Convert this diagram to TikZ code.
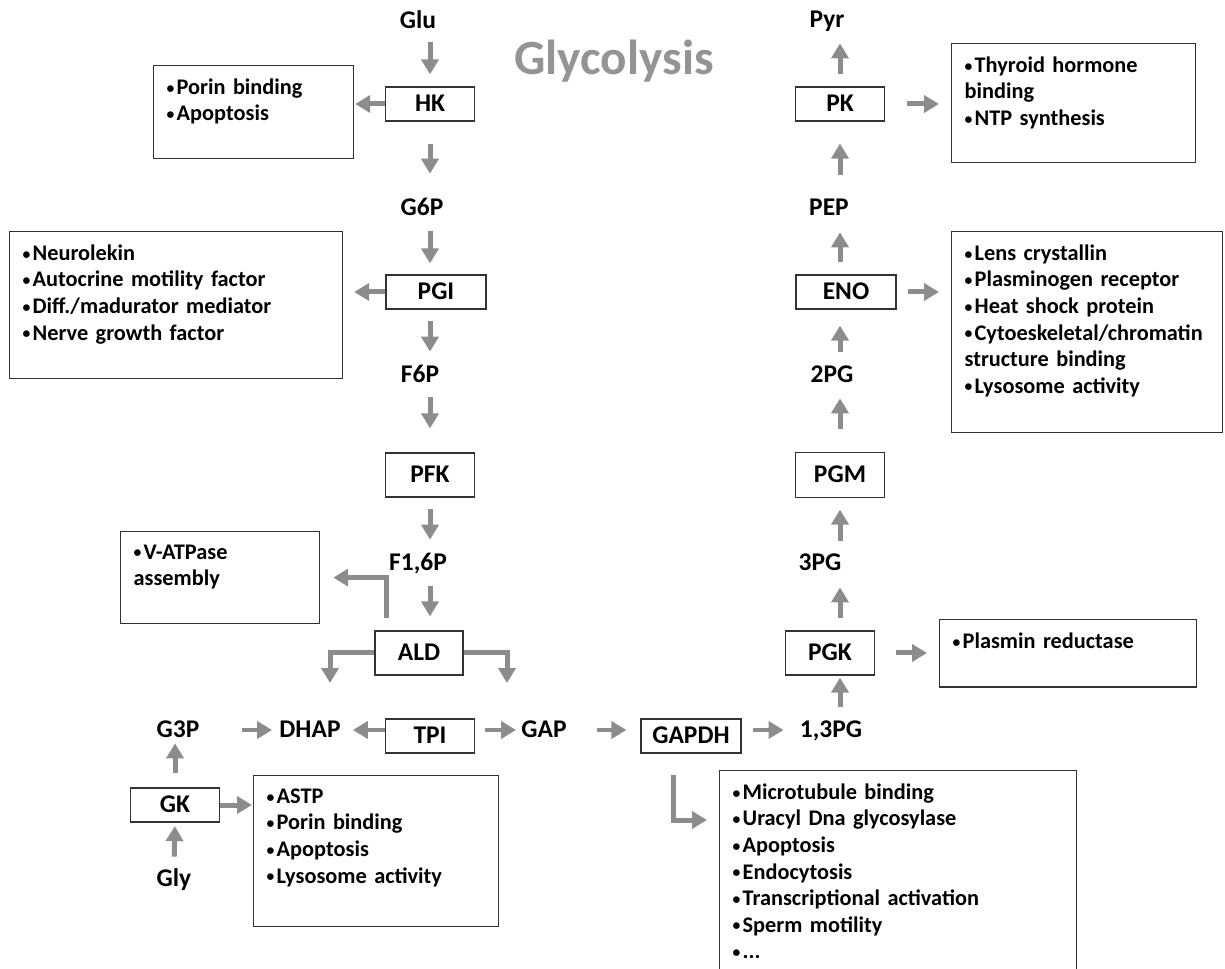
\documentclass[tikz,border=0pt]{standalone}
\usepackage{fontspec}
\setmainfont{Carlito}
\usetikzlibrary{positioning, arrows.meta, calc}
\definecolor{flowgray}{RGB}{140,140,140}
\definecolor{titlegray}{RGB}{148,148,148}
\hyphenpenalty=10000
\newcommand{\bul}{\raisebox{0.12ex}{\scalebox{0.7}{•}}\hspace{1.3pt}}

\begin{document}
\begin{tikzpicture}[
    x=0.02cm, y=-0.02cm,
    metab/.style={font=\bfseries\fontsize{14.5}{17}\selectfont, inner sep=0pt,
                  text height=0.4cm, text depth=0.08cm},
    enzyme/.style={draw=black!80, line width=0.7pt, font=\bfseries\fontsize{14.5}{17}\selectfont,
                   inner sep=0pt, text height=0.4cm, text depth=0.08cm,
                   minimum width=1.78cm, minimum height=0.68cm},
    infobox/.style 2 args={draw=black!80, line width=0.7pt, anchor=north west, align=left,
                   font=\bfseries\fontsize{12.7}{15.1}\selectfont,
                   inner xsep=0.26cm, inner ysep=7.5pt, text width=#1, text depth=#2},
    flow/.style={-{Triangle[length=0.3cm, width=0.34cm]}, line width=0.1cm, flowgray,
                 shorten <=0.22cm, shorten >=0.22cm}
]
\useasboundingbox (0,0) rectangle (1225,969);
\clip (0,0) rectangle (1225,969);

\node[font=\bfseries\fontsize{28}{32}\selectfont, text=titlegray, anchor=base] (title) at (614,75) {Glycolysis};

\node[metab] (glu) at (418,21) {Glu};
\node[enzyme] (hk) at (430,104) {HK};
\node[metab] (g6p) at (422,208) {G6P};
\node[enzyme, minimum width=2cm] (pgi) at (436,292) {PGI};
\node[metab] (f6p) at (420,375) {F6P};
\node[enzyme, minimum height=0.88cm] (pfk) at (430,475) {PFK};
\node[metab] (f16p) at (418,563) {F1,6P};
\node[enzyme, minimum width=1.76cm, minimum height=0.88cm] (ald) at (419,653) {ALD};
\node[metab] (g3p) at (178,730) {G3P};
\node[metab] (dhap) at (310,730) {DHAP};
\node[enzyme] (tpi) at (430,736) {TPI};
\node[metab] (gap) at (544,730) {GAP};
\node[enzyme, minimum width=2cm] (gapdh) at (691,736) {GAPDH};
\node[metab] (bpg) at (831,730) {1,3PG};
\node[enzyme, minimum height=0.88cm] (pgk) at (830,653) {PGK};
\node[metab] (pg3) at (820,563) {3PG};
\node[enzyme, minimum height=0.9cm] (pgm) at (840,475) {PGM};
\node[metab] (pg2) at (832,375) {2PG};
\node[enzyme, minimum width=2cm] (eno) at (846,292) {ENO};
\node[metab] (pep) at (829,208) {PEP};
\node[enzyme] (pk) at (840,104) {PK};
\node[metab] (pyr) at (827,20) {Pyr};
\node[enzyme] (gk) at (175,805) {GK};
\node[metab] (gly) at (174,879) {Gly};

\node[infobox={3.48cm}{29.1pt}] (hkinfo) at (153,65) {\bul Porin binding\\\bul Apoptosis};
\node[infobox={6.14cm}{59.7pt}] (pgiinfo) at (9,231) {\bul Neurolekin\\\bul Autocrine motility factor\\\bul Diff./madurator mediator\\\bul Nerve growth factor};
\node[infobox={3.46cm}{29.1pt}] (aldinfo) at (120,531) {\bul V-ATPase\\assembly};
\node[infobox={4.38cm}{62.6pt}] (gkinfo) at (253,775) {\bul ASTP\\\bul Porin binding\\\bul Apoptosis\\\bul Lysosome activity};
\node[infobox={4.36cm}{43.9pt}] (pkinfo) at (951,43) {\bul Thyroid hormone\\binding\\\bul NTP synthesis};
\node[infobox={4.90cm}{90.4pt}] (enoinfo) at (951,231) {\bul Lens crystallin\\\bul Plasminogen receptor\\\bul Heat shock protein\\\bul Cytoeskeletal/chromatin\\structure binding\\\bul Lysosome activity};
\node[infobox={4.62cm}{14.4pt}] (pgkinfo) at (939,619) {\bul Plasmin reductase};
\node[infobox={6.62cm}{101pt}] (gapdhinfo) at (719,770) {\bul Microtubule binding\\\bul Uracyl Dna glycosylase\\\bul Apoptosis\\\bul Endocytosis\\\bul Transcriptional activation\\\bul Sperm motility\\\bul ...};

\coordinate (lcol) at (430,0);
\coordinate (rcol) at (840,0);
\coordinate (aldup) at (386,618);
\coordinate (dhapin) at (330,683);
\coordinate (gapin) at (507,683);
\coordinate (gapdhout) at (673,775);
\coordinate (gapdhin) at (707,820);

\draw[flow, shorten <=0.18cm, shorten >=0.24cm] (lcol |- glu.south) -- (hk.north);
\draw[flow, shorten <=0.44cm, shorten >=0.44cm] (hk.south) -- (lcol |- g6p.north);
\draw[flow] (lcol |- g6p.south) -- (lcol |- pgi.north);
\draw[flow] (lcol |- pgi.south) -- (lcol |- f6p.north);
\draw[flow, shorten <=0.2cm, shorten >=0.48cm] (lcol |- f6p.south) -- (pfk.north);
\draw[flow] (pfk.south) -- (lcol |- f16p.north);
\draw[flow, shorten >=0.28cm] (lcol |- f16p.south) -- (lcol |- ald.north);

\draw[flow, shorten <=0pt, shorten >=0.02cm] (hk.west) -- (hk.west -| hkinfo.east);
\draw[flow, shorten <=0pt] (pgi.west) -- (pgi.west -| pgiinfo.east);
\draw[flow, shorten <=0pt, shorten >=0.26cm] (aldup) |- (aldinfo.east);
\draw[flow, shorten <=0pt, shorten >=0pt] (ald.west) -| (dhapin);
\draw[flow, shorten <=0pt, shorten >=0pt] (ald.east) -| (gapin);

\draw[flow, shorten <=0.84cm, shorten >=0.14cm] (g3p.east) -- (dhap.west);
\draw[flow, shorten <=0pt, shorten >=0.24cm] (tpi.west |- dhap.east) -- (dhap.east);
\draw[flow, shorten <=0.2cm, shorten >=0.1cm] (tpi.east |- gap.west) -- (gap.west);
\draw[flow, shorten <=0.6cm, shorten >=0.28cm] (gap.east) -- (gapdh.west |- gap.east);
\draw[flow, shorten >=0.32cm] (gapdh.east |- bpg.west) -- (bpg.west);
\draw[flow, shorten <=0pt, shorten >=0pt] (gapdhout) |- (gapdhin);

\draw[flow, shorten <=0.29cm, shorten >=0.02cm] (gk.north) -- (gk.north |- g3p.south);
\draw[flow, shorten <=0.2cm, shorten >=0.07cm] (gly.north) -- (gk.south);
\draw[flow, shorten <=0pt, shorten >=0.02cm] (gk.east) -- (gk.east -| gkinfo.west);

\draw[flow, shorten >=0.04cm] (rcol |- bpg.north) -- (rcol |- pgk.south);
\draw[flow, shorten <=0.24cm, shorten >=0.24cm] (rcol |- pgk.north) -- (rcol |- pg3.south);
\draw[flow, shorten <=0.2cm, shorten >=0.23cm] (rcol |- pg3.north) -- (pgm.south);
\draw[flow, shorten <=0.45cm] (pgm.north) -- (rcol |- pg2.south);
\draw[flow, shorten >=0.32cm] (rcol |- pg2.north) -- (rcol |- eno.south);
\draw[flow, shorten <=0.24cm, shorten >=0.24cm] (rcol |- eno.north) -- (rcol |- pep.south);
\draw[flow, shorten <=0.42cm, shorten >=0.44cm] (rcol |- pep.north) -- (pk.south);
\draw[flow, shorten <=0.24cm] (pk.north) -- (rcol |- pyr.south);

\draw[flow, shorten <=0.44cm, shorten >=0.24cm] (pk.east) -- (pk.east -| pkinfo.west);
\draw[flow, shorten >=0.24cm] (eno.east) -- (eno.east -| enoinfo.west);
\draw[flow, shorten <=0.42cm, shorten >=0.24cm] (pgk.east) -- (pgk.east -| pgkinfo.west);
\end{tikzpicture}
\end{document}
